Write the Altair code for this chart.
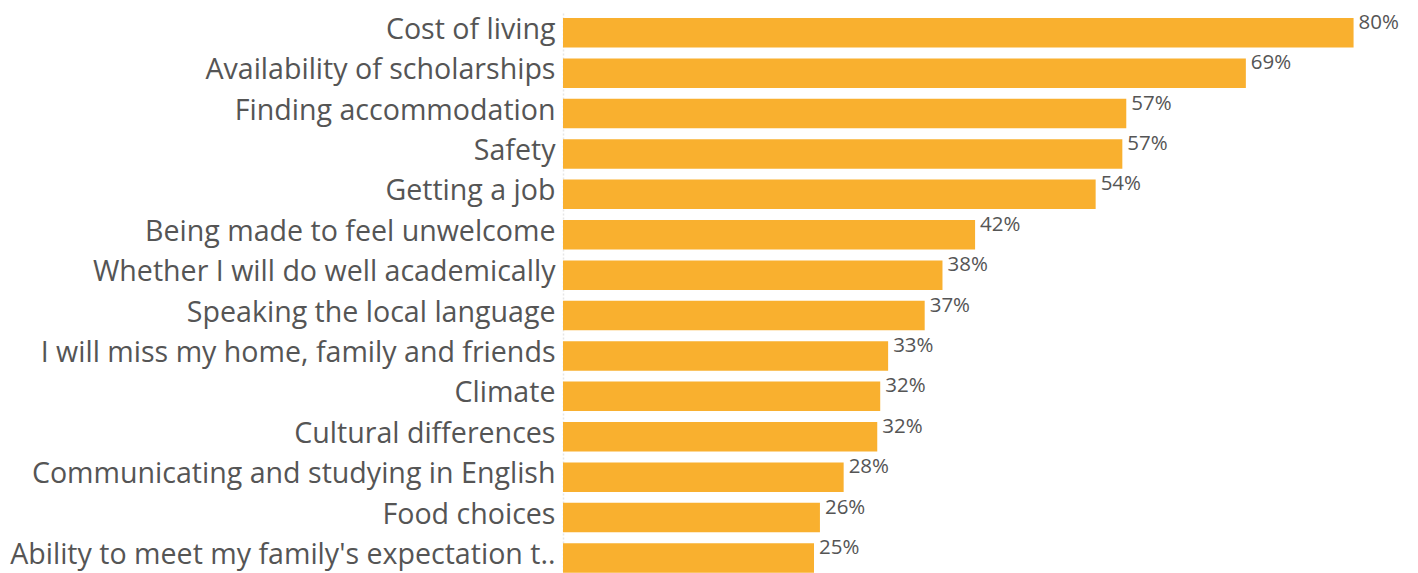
import altair as alt
import pandas as pd

categories = [
    "Cost of living",
    "Availability of scholarships",
    "Finding accommodation",
    "Safety",
    "Getting a job",
    "Being made to feel unwelcome",
    "Whether I will do well academically",
    "Speaking the local language",
    "I will miss my home, family and friends",
    "Climate",
    "Cultural differences",
    "Communicating and studying in English",
    "Food choices",
    "Ability to meet my family's expectation t..",
]
values = [80.0, 69.1, 57.0, 56.6, 53.9, 41.7, 38.4, 36.6, 32.9, 32.1, 31.8, 28.4, 26.0, 25.4]

df = pd.DataFrame({"category": categories, "value": values})

FONT = "Open Sans"
TXT = "#555555"
BAR = "#F9B02F"

y_enc = alt.Y(
    "category:N",
    sort=categories,
    title=None,
    scale=alt.Scale(paddingInner=0.27, paddingOuter=0.124),
    axis=alt.Axis(
        ticks=False,
        labelFont=FONT,
        labelFontSize=28.6,
        labelColor=TXT,
        labelPadding=8,
        labelLimit=700,
        minExtent=555,
        maxExtent=555,
        domain=True,
        domainColor="#e6e6e6",
        domainDash=[2, 2],
        domainWidth=1.5,
        grid=False,
        labelOffset=-3,
    ),
)
x_enc = alt.X(
    "value:Q",
    axis=None,
    scale=alt.Scale(domain=[0, 85], nice=False, zero=True),
)

bars = alt.Chart(df).mark_bar(color=BAR).encode(x=x_enc, y=y_enc)

labels = (
    alt.Chart(df)
    .transform_calculate(label="format(datum.value, '.0f') + '%'")
    .mark_text(
        align="left",
        baseline="alphabetic",
        dx=5,
        dy=-4,
        font=FONT,
        fontSize=20.5,
        color=TXT,
    )
    .encode(x=x_enc, y=y_enc, text="label:N")
)

chart = (
    alt.layer(bars, labels)
    .properties(
        width=840,
        height=564.7,
        padding={"left": 0, "top": 4, "right": 0, "bottom": 0},
    )
    .configure_view(stroke=None)
)

chart.save("out.html", embed_options={"renderer": "svg", "actions": False})
